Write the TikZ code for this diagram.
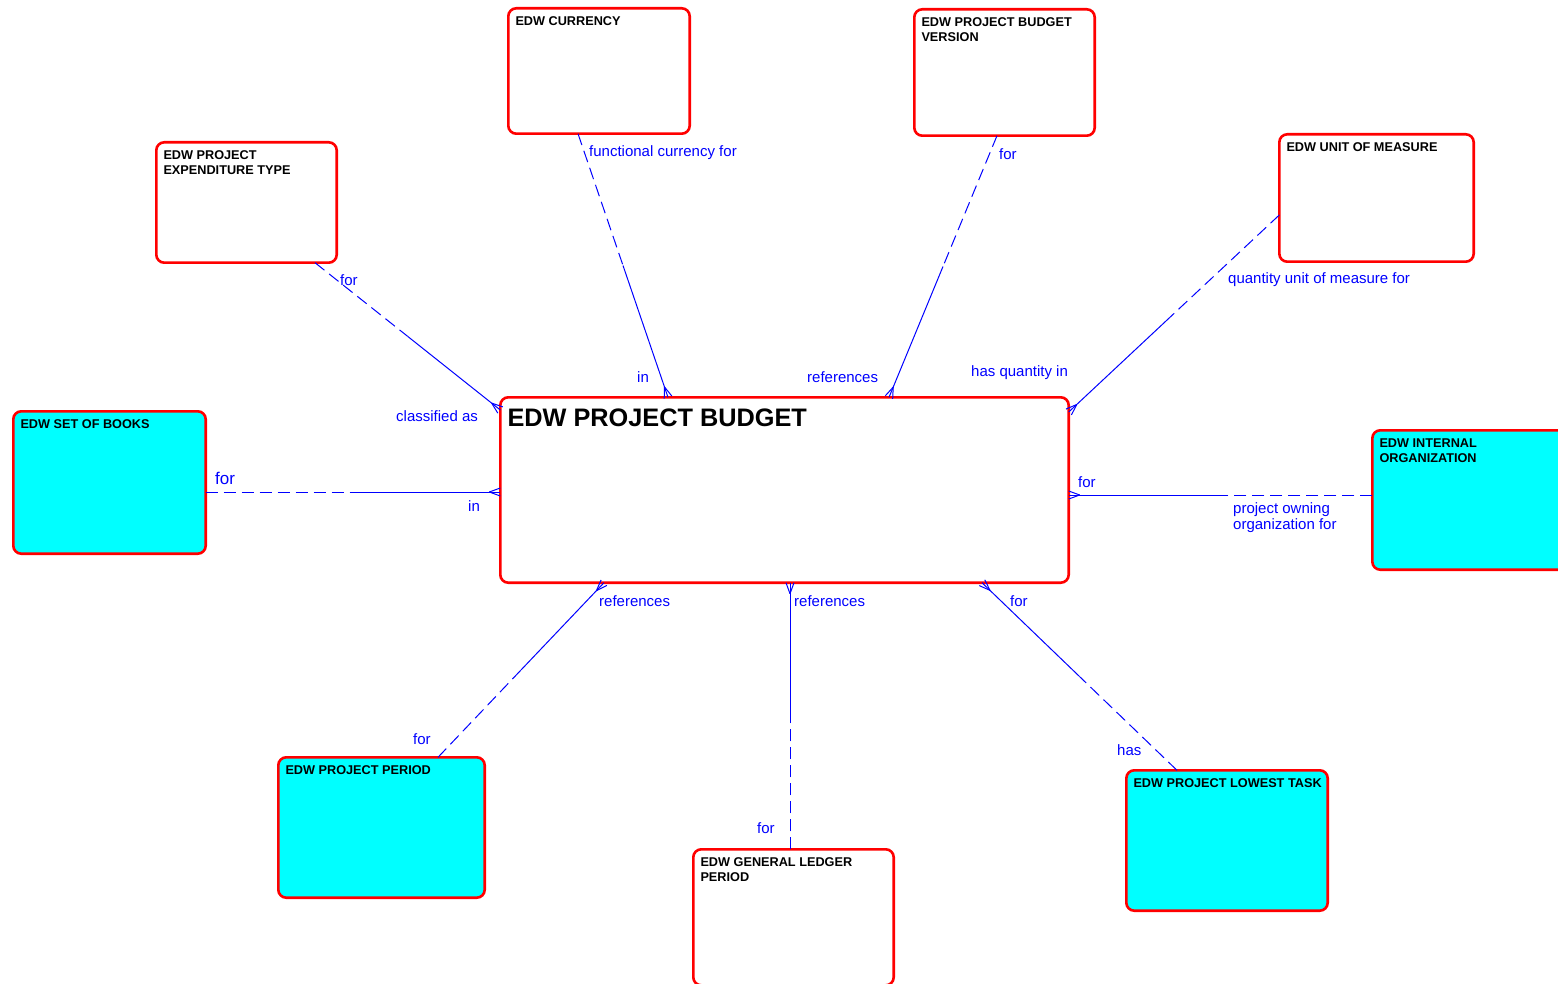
\documentclass[tikz,border=0pt]{standalone}
\usepackage{fontspec}
\setmainfont{Liberation Sans}
\usetikzlibrary{calc}
\definecolor{entred}{RGB}{255,0,0}
\definecolor{entcyan}{RGB}{0,255,255}
\definecolor{relblue}{RGB}{0,0,255}
\tikzset{
  ent/.style={draw=entred, line width=2.6pt, rounded corners=8pt, anchor=north west, inner sep=0pt, outer sep=0pt},
  weakent/.style={ent, fill=white},
  strongent/.style={ent, fill=entcyan},
  ttl/.style={anchor=north west, inner sep=0pt, font=\bfseries\fontsize{12.7}{15}\selectfont, align=left, text=black, xshift=7pt, yshift=-8pt},
  rel/.style={draw=relblue, line width=1pt},
  optrel/.style={rel, dash pattern=on 12pt off 6pt},
  lbl/.style={text=relblue, font=\fontsize{15}{16}\selectfont, anchor=base west, inner sep=0pt, align=left},
  biglbl/.style={lbl, font=\fontsize{17}{18}\selectfont},
}
\newcommand\relline[2]{%
  \draw[optrel] (#1) -- ($(#1)!0.5!(#2)$);
  \draw[rel] ($(#1)!0.5!(#2)$) -- (#2);
  \draw[rel] ($(#2)!11pt!(#1)$) -- ($(#2)!4pt!90:(#1)$);
  \draw[rel] ($(#2)!11pt!(#1)$) -- ($(#2)!4pt!-90:(#1)$);
}
\begin{document}
\begin{tikzpicture}[x=1pt,y=-1pt]
\clip (0,0) rectangle (1558,984);
\fill[white] (0,0) rectangle (1558,984);

% entities
\node[weakent, minimum width=181.4pt, minimum height=125.4pt,
  label={[ttl]north west:EDW CURRENCY}] (cur) at (508.3,8.3) {};
\node[weakent, minimum width=180.4pt, minimum height=126.4pt,
  label={[ttl]north west:{EDW PROJECT BUDGET\\VERSION}}] (ver) at (914.3,9.3) {};
\node[weakent, minimum width=180.4pt, minimum height=120.4pt,
  label={[ttl]north west:{EDW PROJECT\\EXPENDITURE TYPE}}] (exp) at (156.3,142.3) {};
\node[weakent, minimum width=194.4pt, minimum height=127.4pt,
  label={[ttl]north west:EDW UNIT OF MEASURE}] (uom) at (1279.3,134.3) {};
\node[strongent, minimum width=192.4pt, minimum height=142.4pt,
  label={[ttl]north west:EDW SET OF BOOKS}] (sob) at (13.3,411.3) {};
\node[weakent, minimum width=568.4pt, minimum height=185.4pt,
  label={[ttl, font=\bfseries\fontsize{25.3}{28}\selectfont, yshift=-3.5pt]north west:EDW PROJECT BUDGET}] (bud) at (500.3,397.3) {};
\node[strongent, minimum width=200pt, minimum height=139.4pt,
  label={[ttl]north west:{EDW INTERNAL\\ORGANIZATION}}] (org) at (1372.3,430.3) {};
\node[strongent, minimum width=206.4pt, minimum height=140.4pt,
  label={[ttl]north west:EDW PROJECT PERIOD}] (per) at (278.3,757.3) {};
\node[weakent, minimum width=200.4pt, minimum height=136pt,
  label={[ttl]north west:{EDW GENERAL LEDGER\\PERIOD}}] (gl) at (693.3,849.3) {};
\node[strongent, minimum width=201.4pt, minimum height=140.4pt,
  label={[ttl]north west:EDW PROJECT LOWEST TASK}] (task) at (1126.3,770.3) {};

% attachment points
\coordinate (curA) at (cur.south -| 578,0);
\coordinate (curB) at (bud.north -| 668,0);
\coordinate (verA) at (ver.south -| 997,0);
\coordinate (verB) at (bud.north -| 889,0);
\coordinate (expA) at (exp.south -| 315,0);
\coordinate (expB) at (bud.west |- 0,410);
\coordinate (uomA) at (uom.west |- 0,215);
\coordinate (uomB) at (bud.east |- 0,412);
\coordinate (sobA) at (sob.east |- 0,492);
\coordinate (sobB) at (bud.west |- 0,492);
\coordinate (orgA) at (org.west |- 0,495);
\coordinate (orgB) at (bud.east |- 0,495);
\coordinate (perA) at (per.north -| 438,0);
\coordinate (perB) at (bud.south -| 604,0);
\coordinate (glA) at (gl.north -| 790,0);
\coordinate (glB) at (bud.south -| 790,0);
\coordinate (taskA) at (task.north -| 1177,0);
\coordinate (taskB) at (bud.south -| 982,0);

% relationships
\relline{curA}{curB}
\relline{verA}{verB}
\relline{expA}{expB}
\relline{uomA}{uomB}
\relline{sobA}{sobB}
\relline{orgA}{orgB}
\relline{perA}{perB}
\relline{glA}{glB}
\relline{taskA}{taskB}

% labels
\node[lbl] (l1) at (589,157) {functional currency for};
\node[lbl] (l2) at (637,382) {in};
\node[lbl] (l3) at (999,160) {for};
\node[lbl] (l4) at (807,382) {references};
\node[lbl] (l5) at (340,286) {for};
\node[lbl] (l6) at (396,421) {classified as};
\node[lbl] (l7) at (1228,284) {quantity unit of measure for};
\node[lbl] (l8) at (971,376) {has quantity in};
\node[biglbl] (l9) at (215,484) {for};
\node[lbl] (l10) at (468,511) {in};
\node[lbl] (l11) at (1078,487) {for};
\node[lbl] (l12) at (1233,513) {project owning};
\node[lbl] (l13) at (1233,529) {organization for};
\node[lbl] (l14) at (413,744) {for};
\node[lbl] (l15) at (599,606) {references};
\node[lbl] (l16) at (757,833) {for};
\node[lbl] (l17) at (794,606) {references};
\node[lbl] (l18) at (1117,755) {has};
\node[lbl] (l19) at (1010,606) {for};
\end{tikzpicture}
\end{document}
